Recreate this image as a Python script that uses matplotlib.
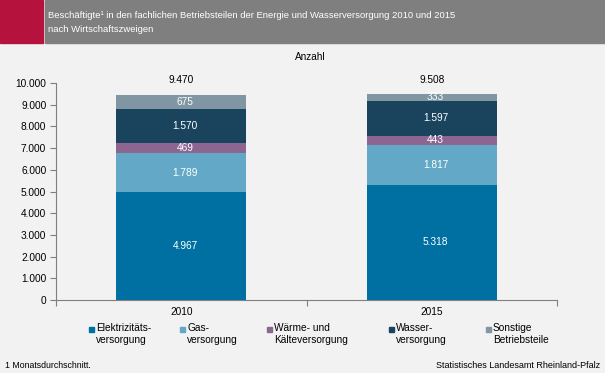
import matplotlib.pyplot as plt
from matplotlib.patches import Rectangle

plt.rcParams['font.family'] = ['Liberation Sans', 'DejaVu Sans']

jahre = ['2010', '2015']
serien = ['Elektrizitäts-\nversorgung', 'Gas-\nversorgung', 'Wärme- und\nKälteversorgung',
          'Wasser-\nversorgung', 'Sonstige\nBetriebsteile']
werte = [
    [4967, 5318],
    [1789, 1817],
    [469, 443],
    [1570, 1597],
    [675, 333],
]
summen = [9470, 9508]
farben = ['#0070A3', '#64A8C8', '#8D6591', '#1A445E', '#8096A2']

W, H = 605, 373
fig = plt.figure(figsize=(W / 100, H / 100), dpi=100)
fig.patch.set_facecolor('#F2F2F2')

# Kopfzeile
fig.patches.append(Rectangle((0, 1 - 43 / H), 43 / W, 43 / H, transform=fig.transFigure,
                             color='#B5123E', zorder=0))
fig.patches.append(Rectangle((45 / W, 1 - 43 / H), 1 - 45 / W, 43 / H, transform=fig.transFigure,
                             color='#7F7F7F', zorder=0))
fig.text(48 / W, 1 - 15 / H, 'Beschäftigte¹ in den fachlichen Betriebsteilen der Energie und Wasserversorgung 2010 und 2015',
         color='white', fontsize=6.8, va='center')
fig.text(48 / W, 1 - 29 / H, 'nach Wirtschaftszweigen', color='white', fontsize=6.8, va='center')
fig.text(310 / W, 1 - 57 / H, 'Anzahl', fontsize=7.2, ha='center', va='center')

ax = fig.add_axes([56 / W, 1 - 300 / H, 501 / W, 217 / H])
ax.set_facecolor('#F2F2F2')

x = [0, 1]
unten = [0, 0]
for i, (s, v) in enumerate(zip(serien, werte)):
    ax.bar(x, v, bottom=unten, width=0.52, color=farben[i], zorder=2)
    for j in range(2):
        ax.text(x[j] + 0.015, unten[j] + v[j] / 2, f'{v[j]:,}'.replace(',', '.'),
                color='white', ha='center', va='center', fontsize=7.3, zorder=3)
    unten = [unten[k] + v[k] for k in range(2)]
for j in range(2):
    ax.text(x[j], summen[j] + 420, f'{summen[j]:,}'.replace(',', '.'),
            ha='center', va='bottom', fontsize=7.3)

ax.set_xlim(-0.5, 1.5)
ax.set_ylim(0, 10000)
ax.set_yticks(range(0, 10001, 1000))
ax.set_yticklabels([f'{t:,}'.replace(',', '.') for t in range(0, 10001, 1000)], fontsize=7.3)
ax.set_xticks([-0.5, 0.5, 1.5])
ax.set_xticklabels([])
ax.set_xticks(x, minor=True)
ax.set_xticklabels(jahre, minor=True, fontsize=7.3)
ax.tick_params(axis='x', which='minor', length=0, pad=5)
ax.tick_params(axis='x', which='major', length=4, color='#7F7F7F', direction='out')
ax.tick_params(axis='y', length=4, color='#7F7F7F', pad=3)
for sp in ['top', 'right']:
    ax.spines[sp].set_visible(False)
for sp in ['left', 'bottom']:
    ax.spines[sp].set_color('#7F7F7F')

# Legende
lx = [89, 180, 267, 389, 486]
for i, s in enumerate(serien):
    fig.patches.append(Rectangle((lx[i] / W, 1 - 331.5 / H), 5 / W, 5 / H, transform=fig.transFigure,
                                 color=farben[i]))
    fig.text((lx[i] + 7) / W, 1 - 323 / H, s, fontsize=7.3, va='top', linespacing=1.2)

fig.text(5 / W, 1 - 366 / H, '1 Monatsdurchschnitt.', fontsize=6.3, va='center')
fig.text(600 / W, 1 - 365 / H, 'Statistisches Landesamt Rheinland-Pfalz', fontsize=6.5,
         va='center', ha='right')

fig.savefig('out.png', dpi=100, facecolor=fig.get_facecolor())
